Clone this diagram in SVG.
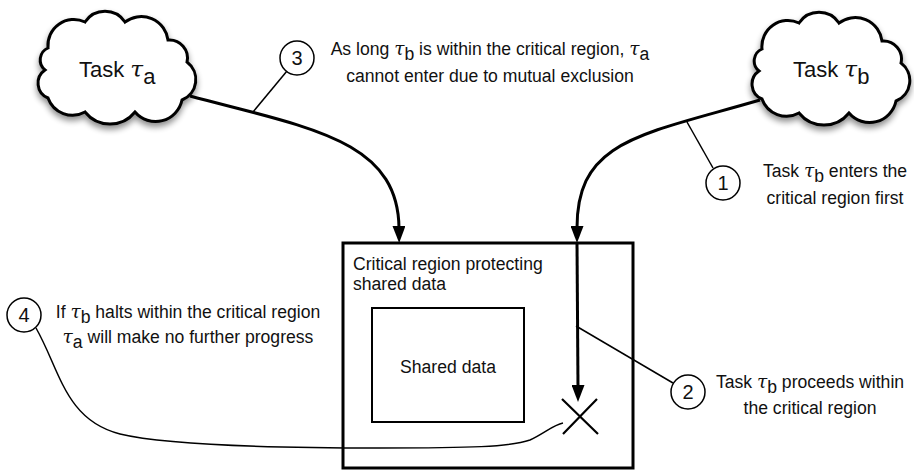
<svg xmlns="http://www.w3.org/2000/svg" width="914" height="473" viewBox="0 0 914 473">
<style>
text{font-family:"Liberation Sans",Arial,sans-serif;font-size:17.6px;fill:#111}
.tau{font-family:"DejaVu Serif","Liberation Serif",serif;font-style:italic;font-size:1.05em}
.title{font-size:22px}
.n{font-size:20px}
.cloud{fill:#fff;stroke:#000;stroke-width:3}
.arrow{fill:none;stroke:#000;stroke-width:3}
.call{fill:none;stroke:#000;stroke-width:1.5}
.num{fill:#fff;stroke:#000;stroke-width:1.5}
.mid{text-anchor:middle}
</style>
<defs>
<marker id="ah" viewBox="0 0 17 13" refX="2" refY="6.5" markerWidth="17" markerHeight="13" markerUnits="userSpaceOnUse" orient="auto">
<path d="M0,0 L17,6.5 L0,13 z" fill="#000"/>
</marker>
<filter id="sh" x="-20%" y="-20%" width="150%" height="160%">
<feGaussianBlur in="SourceAlpha" stdDeviation="3"/>
<feOffset dx="0" dy="4" result="o"/>
<feComponentTransfer><feFuncA type="linear" slope="0.45"/></feComponentTransfer>
<feMerge><feMergeNode/><feMergeNode in="SourceGraphic"/></feMerge>
</filter>
<path id="cloudShape" d="M48 48 A26 26 0 0 1 85 22 A24 24 0 0 1 125 22 A27 27 0 0 1 168 40 A18 18 0 0 1 187 62 A22 22 0 0 1 182 100 A27 27 0 0 1 135 112 A32 32 0 0 1 85 112 A26 26 0 0 1 48 98 A16 16 0 0 1 45 70 A13 13 0 0 1 48 48 Z"/>
</defs>
<rect width="914" height="473" fill="#fff"/>

<g id="critical-region">
<rect x="343" y="243" width="290" height="225" fill="none" stroke="#000" stroke-width="3"/>
<text x="353" y="270">Critical region protecting</text>
<text x="353" y="290">shared data</text>
</g>
<g id="shared-data">
<rect x="372" y="308" width="152" height="114" fill="#fff" stroke="#000" stroke-width="2"/>
<text x="448" y="373" class="mid">Shared data</text>
</g>
<g id="halt-mark">
<path d="M562 399 L598 434 M597 399 L563 434" stroke="#000" stroke-width="2.2" fill="none"/>
</g>

<g id="connectors">
<path class="arrow" d="M190 96 C310 128 398 140 399 228" marker-end="url(#ah)"/>
<path class="arrow" d="M760 100 C640 135 577 140 577 228" marker-end="url(#ah)"/>
<path class="arrow" d="M577 243 C577 300 578 350 578 387" marker-end="url(#ah)"/>
<path class="call" d="M253 112 L287 71"/>
<path class="call" d="M687 122 L713 168"/>
<path class="call" d="M576 326 L673 383"/>
<path class="call" d="M36 328 C60 370 65 420 120 434 C170 446 300 448 380 448 C470 448 510 447 530 440 C545 433 553 425 563 423"/>
</g>

<g id="task-a">
<use href="#cloudShape" class="cloud" filter="url(#sh)"/>
<text x="79" y="77" class="title">Task <tspan class="tau">τ</tspan><tspan dy="7">a</tspan></text>
</g>
<g id="task-b">
<use href="#cloudShape" class="cloud" filter="url(#sh)" transform="translate(714,1)"/>
<text x="793" y="77" class="title">Task <tspan class="tau">τ</tspan><tspan dy="7">b</tspan></text>
</g>

<g id="callout-1">
<circle cx="723" cy="183" r="17" class="num"/>
<text x="723" y="190" class="mid n">1</text>
<text x="835" y="177" class="mid">Task <tspan class="tau">τ</tspan><tspan dy="5">b</tspan><tspan dy="-5"> enters the</tspan></text>
<text x="835" y="204" class="mid">critical region first</text>
</g>
<g id="callout-2">
<circle cx="688" cy="392" r="17" class="num"/>
<text x="688" y="399" class="mid n">2</text>
<text x="810" y="388" class="mid">Task <tspan class="tau">τ</tspan><tspan dy="5">b</tspan><tspan dy="-5"> proceeds within</tspan></text>
<text x="810" y="414" class="mid">the critical region</text>
</g>
<g id="callout-3">
<circle cx="297" cy="58" r="17" class="num"/>
<text x="297" y="65" class="mid n">3</text>
<text x="490" y="55" class="mid">As long <tspan class="tau">τ</tspan><tspan dy="5">b</tspan><tspan dy="-5"> is within the critical region, </tspan><tspan class="tau">τ</tspan><tspan dy="5">a</tspan></text>
<text x="490" y="82" class="mid">cannot enter due to mutual exclusion</text>
</g>
<g id="callout-4">
<circle cx="24" cy="315" r="17" class="num"/>
<text x="24" y="322" class="mid n">4</text>
<text x="188" y="318" class="mid">If <tspan class="tau">τ</tspan><tspan dy="5">b</tspan><tspan dy="-5"> halts within the critical region</tspan></text>
<text x="188" y="343" class="mid"><tspan class="tau">τ</tspan><tspan dy="5">a</tspan><tspan dy="-5"> will make no further progress</tspan></text>
</g>
</svg>
